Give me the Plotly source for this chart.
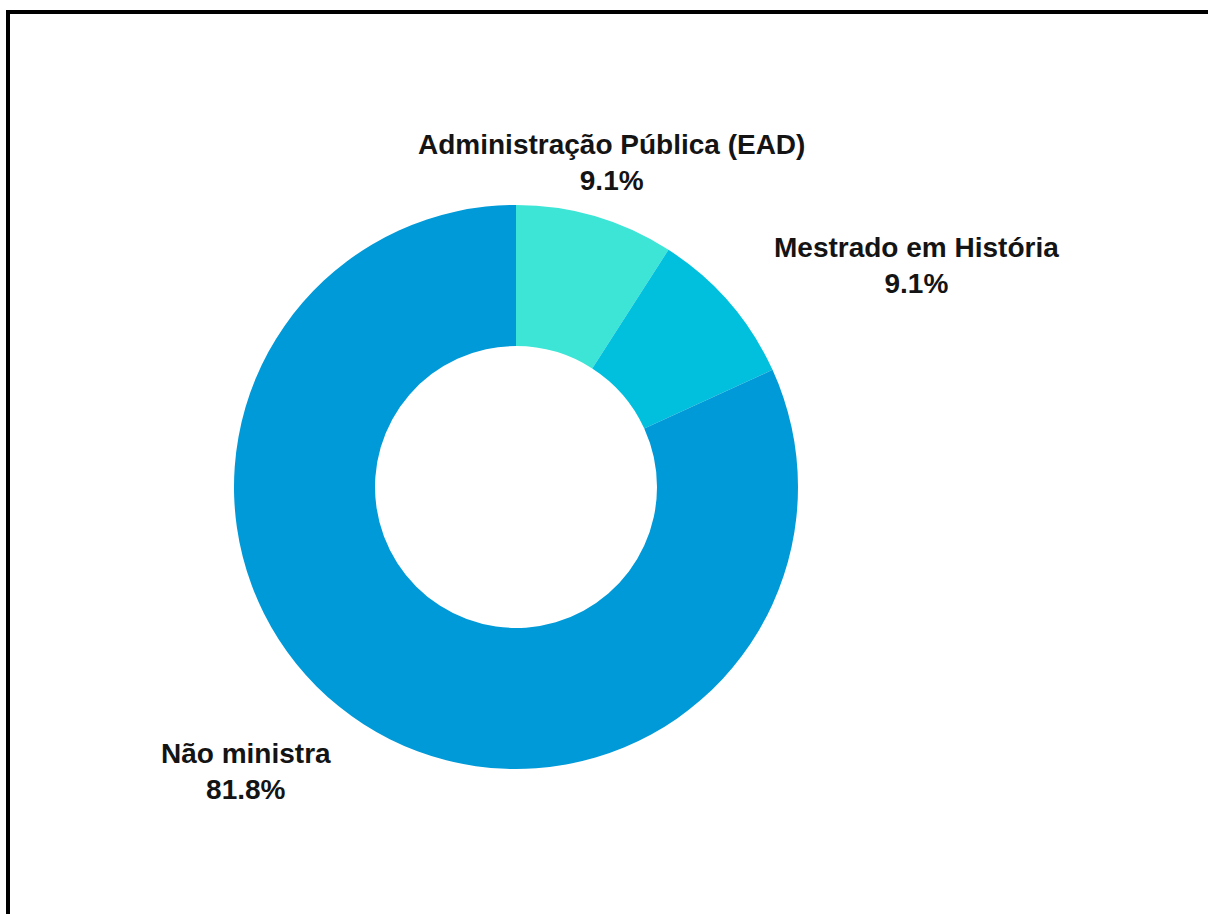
import math
import plotly.graph_objects as go

# Distribution of responses
labels = ["Administração Pública (EAD)", "Mestrado em História", "Não ministra"]
values = [1, 1, 9]
colors = ["#3de5d6", "#00c0de", "#009ad8"]

W, H = 1208, 914
cx, cy, R = 516, 487, 282  # pie centre and outer radius, px
label_r = 1.2 * R          # radius where slice labels are anchored

fig = go.Figure(
    go.Pie(
        labels=labels,
        values=values,
        hole=0.5,
        sort=False,
        direction="clockwise",
        rotation=0,
        marker=dict(colors=colors, line=dict(width=0)),
        textinfo="none",
        hoverinfo="label+percent",
        showlegend=False,
        domain=dict(
            x=[(cx - R) / W, (cx + R) / W],
            y=[1 - (cy + R) / H, 1 - (cy - R) / H],
        ),
    )
)

# Slice labels placed outside the ring at each slice's mid-angle
total = sum(values)
start = 0.0
for lab, v in zip(labels, values):
    frac = v / total
    mid = (start + frac / 2) * 2 * math.pi  # clockwise from 12 o'clock
    start += frac
    s, c = math.sin(mid), math.cos(mid)
    px = cx + label_r * s
    py = cy - label_r * c
    if abs(s) < 0.35:
        xanchor = "center"
    elif s > 0:
        xanchor = "left"
    else:
        xanchor = "right"
    fig.add_annotation(
        x=px / W, y=1 - py / H,
        xref="paper", yref="paper",
        xanchor=xanchor, yanchor="middle",
        text=f"<b>{lab}</b><br><b>{frac * 100:.1f}%</b>",
        showarrow=False,
        align="center",
        font=dict(family="Liberation Sans", size=28, color="#141414"),
    )

# Frame line along the top and left edges
fig.add_shape(
    type="rect",
    xref="paper", yref="paper",
    x0=8 / W, x1=1.05, y0=-0.05, y1=1 - 12 / H,
    line=dict(color="black", width=4),
    fillcolor="rgba(0,0,0,0)",
)

fig.update_layout(
    width=W,
    height=H,
    margin=dict(l=0, r=0, t=0, b=0),
    paper_bgcolor="white",
    plot_bgcolor="white",
)

fig.write_html("out.html")
